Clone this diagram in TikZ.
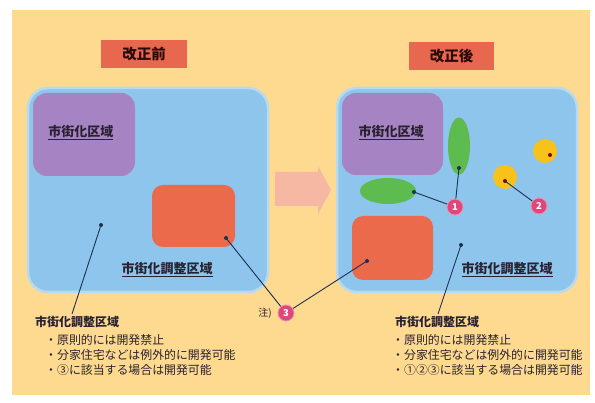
\documentclass[tikz,border=0pt]{standalone}
\usepackage{fontspec}
\setmainfont{Noto Sans CJK JP}
\usetikzlibrary{shapes.geometric}
\definecolor{panel}{HTML}{FDDA8F}
\definecolor{areablue}{HTML}{8EC5EC}
\definecolor{areaedge}{HTML}{B8DAF0}
\definecolor{purplez}{HTML}{A683C2}
\definecolor{redz}{HTML}{EB6A4B}
\definecolor{titlered}{HTML}{E8684F}
\definecolor{titleink}{HTML}{2A0A08}
\definecolor{greenz}{HTML}{5DBB4F}
\definecolor{yellowz}{HTML}{F9C21B}
\definecolor{markpink}{HTML}{E0467B}
\definecolor{inkz}{HTML}{2A2232}
\definecolor{linez}{HTML}{1F3050}
\definecolor{arrowpink}{HTML}{F6B8A2}
\begin{document}
\begin{tikzpicture}[x=1pt,y=-1pt,
  titlebox/.style={fill=titlered, inner sep=0},
  titletext/.style={text=titleink, inner sep=0, font=\fontsize{14.5}{16}\selectfont\bfseries},
  area/.style={fill=areablue, draw=areaedge, line width=2.5, rounded corners=20, inner sep=0},
  purplebox/.style={fill=purplez, rounded corners=14, inner sep=0, minimum width=101, minimum height=82},
  redbox/.style={fill=redz, rounded corners=11, inner sep=0},
  zlabel/.style={text=inkz, font=\fontsize{13}{15}\selectfont\bfseries, inner sep=0},
  bodytext/.style={text=inkz, font=\fontsize{11.9}{13}\selectfont, inner sep=0, anchor=west},
  headtext/.style={text=inkz, font=\fontsize{12}{14}\selectfont\bfseries, inner sep=0, anchor=west},
  dotz/.style={circle, fill=linez, inner sep=0, minimum size=4},
  reddot/.style={circle, fill=red!50!black, inner sep=0, minimum size=4},
  marker/.style={circle, fill=markpink, draw=markpink!60!white, line width=0.8, inner sep=0, minimum size=16, text=white, font=\fontsize{9.5}{10}\selectfont\bfseries},
  conn/.style={draw=linez, line width=0.9},
  spot/.style={circle, fill=yellowz, inner sep=0, minimum size=24},
  greenoval/.style={ellipse, fill=greenz, inner sep=0}
]
\useasboundingbox (0,0) rectangle (595,403);
\fill[white] (0,0) rectangle (595,403);
\fill[panel] (12,10) rectangle (590,395);

% titles
\node[titlebox, minimum width=86, minimum height=28] (t1) at (144,54) {};
\node[titletext] (tt1) at (t1.center) {改正前};
\node[titlebox, minimum width=85, minimum height=28] (t2) at (451.5,56) {};
\node[titletext] (tt2) at (t2.center) {改正後};

% arrow
\fill[arrowpink] (275,172) -- (318,172) -- (318,166) -- (331,190) -- (318,214) -- (318,206) -- (275,206) -- cycle;

% blue areas
\node[area, minimum width=240, minimum height=204] (b1) at (148,190) {};
\node[area, minimum width=240, minimum height=204] (b2) at (457,190) {};

% purple boxes
\node[purplebox, minimum width=102, minimum height=83] (p1) at (84,134.5) {};
\node[purplebox] (p2) at (392.5,134) {};
\node[zlabel] (lp1) at (81,133) {\underline{市街化区域}};
\node[zlabel] (lp2) at (391,133) {\underline{市街化区域}};

% red boxes
\node[redbox, minimum width=83, minimum height=62] (r1) at (193.5,216) {};
\node[redbox, minimum width=81, minimum height=64] (r2) at (392.5,248) {};

% blue labels
\node[zlabel] (lb1) at (167,270) {\underline{市街化調整区域}};
\node[zlabel] (lb2) at (507,270) {\underline{市街化調整区域}};

% green ovals
\node[greenoval, minimum width=22, minimum height=57] (g1) at (459,146) {};
\node[greenoval, minimum width=56, minimum height=26] (g2) at (388,191) {};

% yellow spots
\node[spot] (y1) at (545,151) {};
\node[spot] (y2) at (505,177) {};

% dots
\node[dotz] (dlb) at (101,225) {};
\node[dotz] (dlr) at (226,238) {};
\node[dotz] (drr) at (367,261) {};
\node[dotz] (drb) at (461,245) {};
\node[dotz] (dg1) at (459,168) {};
\node[dotz] (dg2) at (414,192) {};
\node[reddot] (dy1) at (550,155) {};
\node[reddot] (dy2) at (505,181) {};

% markers
\node[marker] (m1) at (455,207) {1};
\node[marker] (m2) at (539,206) {2};
\node[marker] (m3) at (286,313) {3};
\node[text=inkz, font=\fontsize{10}{12}\selectfont, inner sep=0] (note) at (265,313) {注)};

% text blocks
\node[headtext] (h1) at (35,322) {市街化調整区域};
\node[bodytext] (a1) at (45,340) {・原則的には開発禁止};
\node[bodytext] (a2) at (45,355) {・分家住宅などは例外的に開発可能};
\node[bodytext] (a3) at (45,370) {・③に該当する場合は開発可能};
\node[headtext] (h2) at (395,322) {市街化調整区域};
\node[bodytext] (c1) at (392,340) {・原則的には開発禁止};
\node[bodytext] (c2) at (392,355) {・分家住宅などは例外的に開発可能};
\node[bodytext] (c3) at (392,370) {・①②③に該当する場合は開発可能};
\coordinate (h1top) at (72,314);
\coordinate (h2top) at (438,314);

% connectors
\draw[conn] (dlb.center) -- (h1top);
\draw[conn] (drb.center) -- (h2top);
\draw[conn] (dlr.center) -- (m3);
\draw[conn] (drr.center) -- (m3);
\draw[conn] (dg1.center) -- (m1);
\draw[conn] (dg2.center) -- (m1);
\draw[conn] (dy2.center) -- (m2);
\end{tikzpicture}
\end{document}
